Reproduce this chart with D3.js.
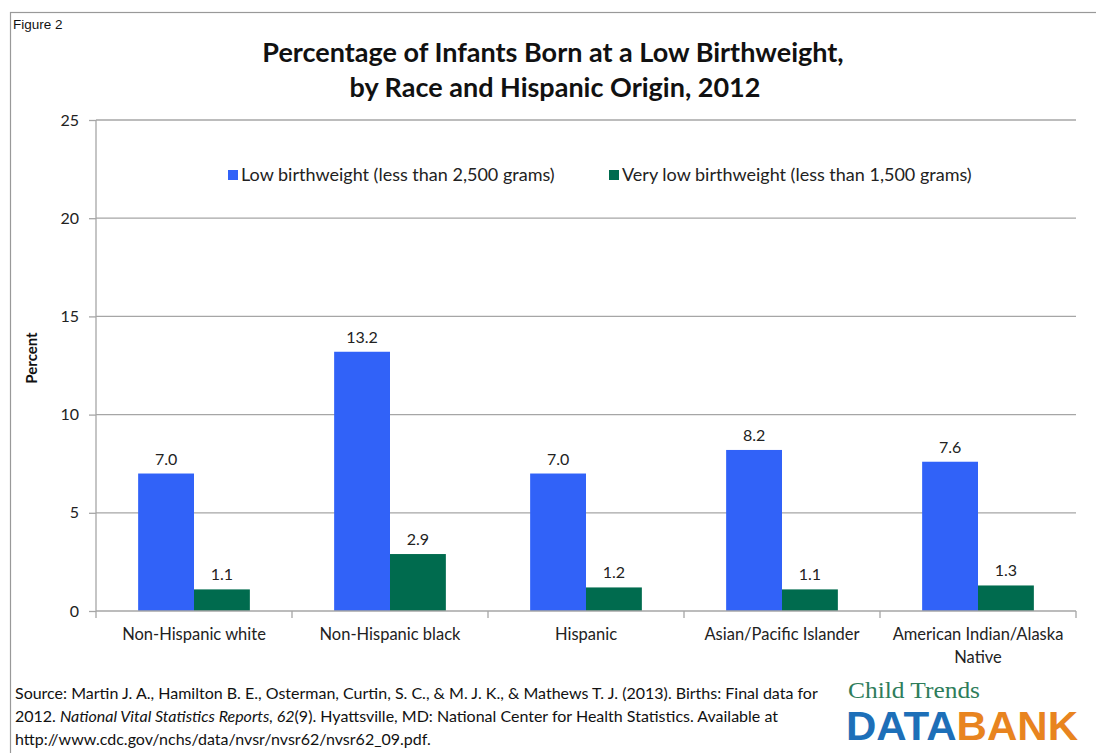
<!DOCTYPE html>
<html>
<head>
<meta charset="utf-8">
<script src="https://cdn.jsdelivr.net/npm/d3@7"></script>
<style>
  html, body { margin: 0; padding: 0; background: #fff; }
  svg { display: block; }
</style>
</head>
<body>
<svg id="chart" width="1096" height="753"></svg>
<script>
const categories = ["Non-Hispanic white", "Non-Hispanic black", "Hispanic", "Asian/Pacific Islander", "American Indian/Alaska Native"];
const lowBirthweight = [7.0, 13.2, 7.0, 8.2, 7.6];
const veryLowBirthweight = [1.1, 2.9, 1.2, 1.1, 1.3];
const seriesNames = ["Low birthweight (less than 2,500 grams)", "Very low birthweight (less than 1,500 grams)"];
const yTicks = [0, 5, 10, 15, 20, 25];

(function () {
const svg = d3.select("#chart");
const FONT = "Lato, 'Open Sans', sans-serif";
const colors = ["#3162F8", "#006B4E"];

// outer frame
svg.append("rect").attr("x", 10.5).attr("y", 12.5).attr("width", 1100).attr("height", 760)
  .attr("fill", "none").attr("stroke", "#999").attr("stroke-width", 1.2);

svg.append("text").attr("x", 13).attr("y", 29).attr("font-family", "Arial, 'Liberation Sans', sans-serif")
  .attr("font-size", 13.5).attr("fill", "#111").text("Figure 2");

// title
const title = svg.append("text").attr("text-anchor", "middle").attr("font-family", FONT)
  .attr("font-weight", "bold").attr("font-size", 27).attr("fill", "#111");
title.append("tspan").attr("x", 553).attr("y", 62).text("Percentage of Infants Born at a Low Birthweight,");
title.append("tspan").attr("x", 555).attr("y", 97).text("by Race and Hispanic Origin, 2012");

const pLeft = 96, pRight = 1076, pTop = 120, pBottom = 611;
const x = d3.scaleBand().domain(categories).range([pLeft, pRight]).paddingInner(0.43).paddingOuter(0.215);
const xs = d3.scaleBand().domain([0, 1]).range([0, x.bandwidth()]);
const y = d3.scaleLinear().domain([0, 25]).range([pBottom, pTop]);

// gridlines
svg.append("g").selectAll("line").data(yTicks.filter(d => d > 0)).join("line")
  .attr("x1", pLeft).attr("x2", pRight).attr("y1", d => y(d)).attr("y2", d => y(d))
  .attr("stroke", "#A6A6A6").attr("stroke-width", 1.3);

// y axis
const yAxis = svg.append("g").attr("transform", `translate(${pLeft},0)`)
  .call(d3.axisLeft(y).tickValues(yTicks).tickSize(7).tickPadding(10).tickFormat(d3.format("d")));
yAxis.select(".domain").attr("stroke", "#A6A6A6").attr("stroke-width", 1.3).attr("d", `M0,${pTop}V${pBottom}`);
yAxis.selectAll(".tick line").attr("stroke", "#A6A6A6").attr("stroke-width", 1.3);
yAxis.selectAll("text").attr("font-family", FONT).attr("font-size", 16).attr("fill", "#222");

// bars
const series = [lowBirthweight, veryLowBirthweight];
series.forEach((vals, si) => {
  svg.append("g").selectAll("rect").data(categories).join("rect")
    .attr("x", c => x(c) + xs(si))
    .attr("width", xs.bandwidth())
    .attr("y", (c, i) => y(vals[i]))
    .attr("height", (c, i) => pBottom - y(vals[i]))
    .attr("fill", colors[si]);
  svg.append("g").selectAll("text").data(categories).join("text")
    .attr("x", c => x(c) + xs(si) + xs.bandwidth() / 2)
    .attr("y", (c, i) => y(vals[i]) - 9)
    .attr("text-anchor", "middle").attr("font-family", FONT).attr("font-size", 16).attr("fill", "#222")
    .text((c, i) => vals[i].toFixed(1));
});

// x axis
const xAxisG = svg.append("g");
xAxisG.append("line").attr("x1", pLeft).attr("x2", pRight).attr("y1", pBottom).attr("y2", pBottom)
  .attr("stroke", "#A6A6A6").attr("stroke-width", 1.3);
const step = x.step();
const boundaries = d3.range(categories.length + 1).map(i => pLeft + i * step);
xAxisG.selectAll("line.tk").data(boundaries).join("line").attr("class", "tk")
  .attr("x1", d => d).attr("x2", d => d).attr("y1", pBottom).attr("y2", pBottom + 7)
  .attr("stroke", "#A6A6A6").attr("stroke-width", 1.3);
const labelLines = [["Non-Hispanic white"], ["Non-Hispanic black"], ["Hispanic"], ["Asian/Pacific Islander"], ["American Indian/Alaska", "Native"]];
categories.forEach((c, i) => {
  const t = xAxisG.append("text").attr("text-anchor", "middle").attr("font-family", FONT)
    .attr("font-size", 16.5).attr("fill", "#222");
  labelLines[i].forEach((ln, j) => {
    t.append("tspan").attr("x", x(c) + x.bandwidth() / 2).attr("y", 640 + j * 23).text(ln);
  });
});

// y label
svg.append("text").attr("transform", "translate(37,358) rotate(-90)").attr("text-anchor", "middle")
  .attr("font-family", FONT).attr("font-weight", "bold").attr("font-size", 15).attr("fill", "#111").text("Percent");

// legend
const legendX = [228, 609];
seriesNames.forEach((n, i) => {
  svg.append("rect").attr("x", legendX[i]).attr("y", 170).attr("width", 10).attr("height", 10).attr("fill", colors[i]);
  svg.append("text").attr("x", legendX[i] + 13).attr("y", 181).attr("font-family", FONT)
    .attr("font-size", 18).attr("fill", "#222").text(n);
});

// source
const src = svg.append("text").attr("font-family", FONT).attr("font-size", 16).attr("fill", "#111");
src.append("tspan").attr("x", 15).attr("y", 699).text("Source:  Martin J. A., Hamilton B. E., Osterman, Curtin, S. C., & M. J. K., & Mathews T. J. (2013). Births: Final data for");
src.append("tspan").text("2012. ").attr("x", 15).attr("y", 722);
src.append("tspan").attr("font-style", "italic").text("National Vital Statistics Reports, 62");
src.append("tspan").text("(9). Hyattsville, MD: National Center for Health Statistics.  Available at");
src.append("tspan").attr("x", 15).attr("y", 745).text("http://www.cdc.gov/nchs/data/nvsr/nvsr62/nvsr62_09.pdf.");

// logo
svg.append("text").attr("x", 848).attr("y", 698).attr("font-family", "'Liberation Serif', 'DejaVu Serif', serif")
  .attr("font-size", 23).attr("textLength", 132).attr("lengthAdjust", "spacingAndGlyphs")
  .attr("fill", "#2E7D5B").text("Child Trends");
const logo = svg.append("text").attr("x", 846).attr("y", 740).attr("font-family", "'Liberation Sans', Arial, sans-serif")
  .attr("font-weight", "bold").attr("font-size", 40).attr("textLength", 232).attr("lengthAdjust", "spacingAndGlyphs");
logo.append("tspan").attr("fill", "#1D6FB8").text("DATA");
logo.append("tspan").attr("fill", "#E8841F").text("BANK");
})();
</script>
</body>
</html>
